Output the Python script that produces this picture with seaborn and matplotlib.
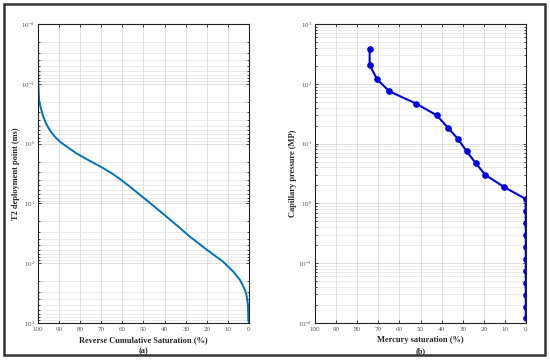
import matplotlib
matplotlib.use("Agg")
import matplotlib.pyplot as plt
import matplotlib.ticker as mticker
from matplotlib.patches import Rectangle
import seaborn as sns
import pandas as pd
import numpy as np

# (a) T2 spectrum, reverse cumulative saturation
t2_sat = [100, 100, 99.9, 99.5, 98.8, 97.6, 96.2, 94.3, 91.9, 89.1, 85.8, 82.0,
          77.7, 69.8, 64.9, 60.2, 55.5, 50.7, 45.0, 39.8, 33.6, 28.0, 19.9, 12.3, 7.4,
          4.3, 1.9, 1.2, 0.5, 0.3, 0.0]
t2_ms = [0.01, 0.04, 0.086, 0.187, 0.244, 0.345, 0.461, 0.604, 0.776, 0.96, 1.16, 1.44,
         1.76, 2.49, 3.16, 4.14, 5.58, 7.67, 11.2, 15.9, 24.3, 36, 60, 94, 139,
         190, 280, 339, 500, 890, 1000]

# (b) mercury injection
hg_sat = [74.1, 74.1, 70.6, 64.8, 52.0, 42.3, 37.0, 32.2, 28.1, 23.8, 19.3, 10.4, 0.2,
          0.1, 0.1, 0.1, 0.1, 0.1, 0.1, 0.1, 0.1, 0.1, 0.1]
hg_pc = [386, 208, 119, 75, 46.5, 29.7, 18.4, 11.9, 7.4, 4.7, 3.0, 1.88, 1.19,
         0.746, 0.47, 0.296, 0.187, 0.117, 0.074, 0.047, 0.029, 0.0188, 0.012]

sat_ticks = list(range(100, -1, -10))

sns.set_style("ticks")
plt.rcParams['font.family'] = ['Liberation Serif', 'DejaVu Serif']
plt.rcParams['mathtext.fontset'] = 'stix'

df_a = pd.DataFrame({'sat': t2_sat, 't2': t2_ms})
df_b = pd.DataFrame({'sat': hg_sat, 'pc': hg_pc})

fig = plt.figure(figsize=(5.5, 3.6), dpi=100)
ax1 = fig.add_axes([38/550, 37/360, 211/550, 299/360])
ax2 = fig.add_axes([315/550, 37/360, 211/550, 299/360])

sns.lineplot(data=df_a, x='sat', y='t2', ax=ax1, sort=False, color='#0072BD',
             linewidth=1.4, estimator=None)
sns.lineplot(data=df_b, x='sat', y='pc', ax=ax2, sort=False, color='#0000E6',
             linewidth=1.5, marker='o', markersize=4, markeredgecolor='#0000E6',
             estimator=None)

for ax in (ax1, ax2):
    ax.set_yscale('log')
    ax.set_xlim(100, 0)
    ax.set_xticks(sat_ticks)
    ax.set_xticklabels([str(t) for t in sat_ticks])
    ax.yaxis.set_major_locator(mticker.LogLocator(base=10, numticks=10))
    ax.yaxis.set_minor_locator(mticker.LogLocator(base=10, subs=np.arange(2, 10), numticks=20))
    ax.yaxis.set_minor_formatter(mticker.NullFormatter())
    ax.grid(True, which='major', color='#d0d0d0', linewidth=0.5)
    ax.grid(True, which='minor', axis='y', color='#e2e2e2', linewidth=0.5)
    ax.tick_params(which='both', direction='in', top=True, right=True,
                   labelsize=5, labelcolor='#555555', length=2.5, width=0.6, pad=2)
    ax.tick_params(axis='x', pad=3)
    ax.tick_params(which='minor', length=1.5)
    for s in ax.spines.values():
        s.set_linewidth(0.8)
        s.set_color('#222222')

ax1.set_ylim(1000, 0.01)
ax2.set_ylim(0.01, 1000)

lab = dict(fontsize=6, fontweight='bold')
ax1.set_xlabel('Reverse Cumulative Saturation (%)\n(a)', labelpad=3, linespacing=1.5, **lab)
ax1.set_ylabel('T2 deployment point (ms)', labelpad=1, **lab)
ax2.set_xlabel('Mercury saturation (%)\n(b)', labelpad=3, linespacing=1.5, **lab)
ax2.set_ylabel('Capillary pressure (MP)', labelpad=1, **lab)

fig.patches.append(Rectangle((4/550, 5/360), 541/550, 351/360, transform=fig.transFigure,
                             fill=False, edgecolor='#333333', linewidth=1.8))

fig.savefig('out.png', dpi=100)
